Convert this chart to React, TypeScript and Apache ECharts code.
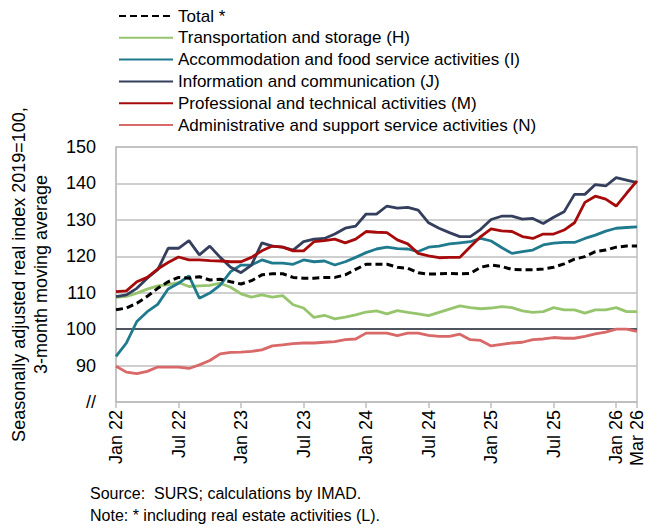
import React, { useEffect, useRef } from "react";
import * as echarts from "echarts";

const monthNames = ["Jan", "Feb", "Mar", "Apr", "May", "Jun", "Jul", "Aug", "Sep", "Oct", "Nov", "Dec"];
const categories: string[] = [];
for (let y = 22; y <= 26; y++) {
  for (let m = 0; m < 12; m++) {
    if (y === 26 && m > 2) break;
    categories.push(`${monthNames[m]} ${y}`);
  }
}

const total = [105.3, 105.8, 107.1, 109.0, 111.2, 113.0, 114.2, 114.0, 114.4, 113.5, 113.7, 113.0, 112.4, 113.3, 114.9, 115.2, 115.2, 114.2, 114.0, 114.0, 114.2, 114.2, 114.9, 116.4, 117.8, 117.8, 117.8, 117.0, 116.7, 115.5, 115.1, 115.2, 115.3, 115.2, 115.3, 117.0, 117.6, 117.2, 116.4, 116.3, 116.3, 116.5, 117.0, 117.9, 119.2, 119.9, 121.3, 121.7, 122.5, 122.8, 122.8];
const transport = [108.7, 109.0, 109.9, 111.0, 111.9, 112.2, 112.8, 111.7, 111.9, 112.0, 112.6, 111.5, 109.7, 108.8, 109.4, 108.8, 109.2, 106.7, 105.8, 103.2, 103.8, 102.8, 103.3, 103.9, 104.7, 105.0, 104.2, 105.1, 104.6, 104.2, 103.7, 104.6, 105.5, 106.4, 105.9, 105.6, 105.8, 106.2, 105.9, 105.0, 104.6, 104.8, 105.9, 105.3, 105.3, 104.4, 105.3, 105.3, 105.9, 104.8, 104.8];
const accommodation = [92.5, 96.2, 102.1, 104.8, 106.8, 111.0, 112.6, 114.6, 108.5, 109.9, 112.1, 115.8, 117.6, 117.6, 119.0, 118.1, 118.1, 117.8, 119.0, 118.5, 118.7, 117.6, 118.5, 119.7, 121.0, 122.0, 122.5, 122.1, 122.0, 121.3, 122.5, 122.8, 123.4, 123.7, 124.0, 124.9, 124.2, 122.4, 120.8, 121.3, 121.7, 123.1, 123.6, 123.8, 123.8, 124.9, 125.8, 126.9, 127.7, 127.9, 128.1];
const information = [108.9, 109.4, 111.2, 114.0, 116.3, 122.2, 122.2, 124.3, 120.4, 122.8, 119.7, 117.0, 115.5, 117.6, 123.7, 122.8, 122.5, 121.7, 124.0, 124.7, 124.9, 126.1, 127.7, 128.3, 131.6, 131.6, 133.8, 133.2, 133.4, 132.7, 129.2, 127.7, 126.5, 125.4, 125.4, 127.4, 130.1, 131.0, 131.0, 130.2, 130.4, 129.0, 130.7, 132.2, 137.0, 137.0, 139.7, 139.3, 141.6, 140.9, 140.2];
const professional = [110.3, 110.5, 113.0, 114.2, 116.5, 118.3, 119.8, 119.0, 119.0, 118.8, 118.7, 118.5, 118.5, 119.7, 121.5, 122.8, 122.5, 121.5, 121.5, 124.0, 124.3, 124.7, 123.7, 124.7, 126.8, 126.6, 126.5, 124.5, 123.4, 120.8, 120.1, 119.6, 119.7, 119.7, 122.6, 125.4, 127.5, 127.0, 126.8, 125.4, 124.9, 126.1, 126.1, 127.2, 129.2, 134.8, 136.5, 135.7, 133.8, 137.3, 140.7];
const administrative = [89.8, 88.2, 87.8, 88.4, 89.6, 89.6, 89.6, 89.2, 90.2, 91.4, 93.2, 93.6, 93.7, 93.9, 94.3, 95.4, 95.7, 96.0, 96.2, 96.2, 96.4, 96.6, 97.1, 97.3, 98.9, 98.9, 98.9, 98.2, 98.9, 98.9, 98.3, 98.0, 98.0, 98.6, 97.1, 96.9, 95.4, 95.8, 96.2, 96.4, 97.1, 97.3, 97.7, 97.5, 97.5, 98.0, 98.7, 99.2, 100.0, 100.0, 99.4];

const seriesNames = [
  "Total *",
  "Transportation and storage (H)",
  "Accommodation and food service activities (I)",
  "Information and communication (J)",
  "Professional and technical activities (M)",
  "Administrative and support service activities (N)",
];

const FONT = "Liberation Sans";

export default function App() {
  const ref = useRef<HTMLDivElement>(null);
  useEffect(() => {
    document.body.style.margin = "0";
    if (!ref.current) return;
    const chart = echarts.init(ref.current, undefined, { renderer: "svg" });
    const showIdx = (i: number) => i % 6 === 0 || i === categories.length - 1;
    const mk = (name: string, data: number[], color: string, z: number, dashed = false) => ({
      name,
      type: "line",
      data,
      symbol: "none",
      z,
      lineStyle: { color, width: dashed ? 3 : 2.8, type: dashed ? [7, 4] : "solid" },
      itemStyle: { color },
    });
    const series: any[] = [
      mk(seriesNames[1], transport, "#97C56E", 3),
      mk(seriesNames[2], accommodation, "#207A8E", 4),
      mk(seriesNames[3], information, "#343F5D", 5),
      mk(seriesNames[4], professional, "#A60A0A", 6),
      mk(seriesNames[5], administrative, "#D96868", 7),
      mk(seriesNames[0], total, "#000000", 8, true),
    ];
    series[0].markLine = {
      silent: true,
      symbol: "none",
      label: { show: false },
      lineStyle: { color: "#505560", width: 2, type: "solid" },
      data: [{ yAxis: 100 }],
      z: 2,
    };
    chart.setOption({
      animation: false,
      textStyle: { fontFamily: FONT },
      grid: {
        left: 116,
        right: 13,
        top: 147,
        bottom: 130,
        show: true,
        borderColor: "#BFBFBF",
        borderWidth: 1.5,
      },
      legend: {
        orient: "vertical",
        left: 113,
        top: 2,
        itemWidth: 54,
        itemHeight: 14,
        itemGap: 3.8,
        data: seriesNames,
        itemStyle: { opacity: 0 },
        textStyle: { fontFamily: FONT, fontSize: 17, color: "#000", lineHeight: 18, padding: [0, 0, 0, 0] },
      },
      xAxis: {
        type: "category",
        data: categories,
        boundaryGap: false,
        axisLine: { lineStyle: { color: "#BFBFBF", width: 1.5 } },
        axisTick: {
          interval: (i: number) => showIdx(i),
          length: 6,
          lineStyle: { color: "#BFBFBF", width: 1.5 },
        },
        axisLabel: {
          interval: (i: number) => showIdx(i),
          rotate: 90,
          fontSize: 18,
          color: "#000",
          fontFamily: FONT,
          margin: 8,
          hideOverlap: false,
        },
        splitLine: { show: false },
      },
      yAxis: {
        type: "value",
        min: 80,
        max: 150,
        interval: 10,
        name: "Seasonally adjusted real index 2019=100,\n3-month moving average",
        nameLocation: "middle",
        nameRotate: 90,
        nameGap: 64,
        nameTextStyle: { fontFamily: FONT, fontSize: 18, color: "#000", lineHeight: 22 },
        axisLine: { show: true, lineStyle: { color: "#BFBFBF", width: 1.5 } },
        axisTick: { show: false },
        axisLabel: {
          fontSize: 18,
          color: "#000",
          fontFamily: FONT,
          margin: 20,
          formatter: (v: number) => (v === 80 ? "//" : String(v)),
        },
        splitLine: { show: true, lineStyle: { color: "#BFBFBF", width: 1.5 } },
      },
      graphic: [
        {
          type: "text",
          left: 90,
          top: 485,
          style: { text: "Source:  SURS; calculations by IMAD.", fontFamily: FONT, fontSize: 16, fill: "#000" },
        },
        {
          type: "text",
          left: 90,
          top: 507,
          style: { text: "Note: * including real estate activities (L).", fontFamily: FONT, fontSize: 16, fill: "#000" },
        },
      ],
      series,
    });
    return () => chart.dispose();
  }, []);
  return <div ref={ref} style={{ width: 650, height: 532 }} />;
}
